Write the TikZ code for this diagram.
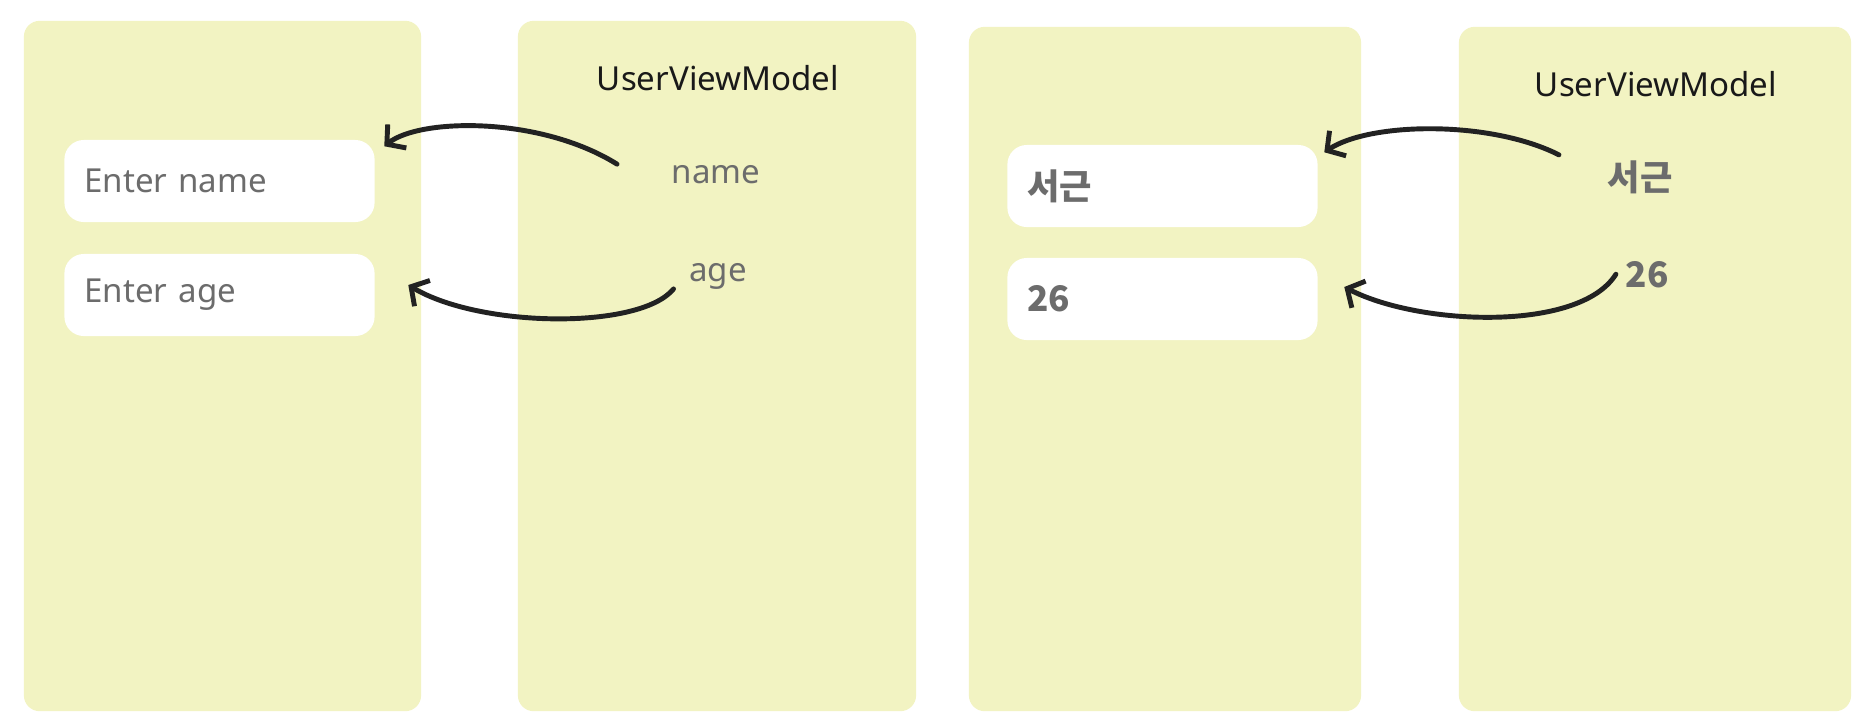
\documentclass[tikz,border=0pt]{standalone}
\usepackage{fontspec}
\setmainfont{Noto Sans}
\newfontfamily\kofont{Noto Sans CJK KR}
\usetikzlibrary{arrows.meta,positioning,calc}
\definecolor{lapsarga}{RGB}{242,243,194}
\definecolor{szurke}{RGB}{108,108,108}
\definecolor{ceruza}{RGB}{34,34,34}
\tikzset{
  panel/.style={fill=lapsarga,rounded corners=4.5pt,inner sep=0pt},
  field/.style={fill=white,rounded corners=5.5pt,minimum height=0.82cm,
    text width=2.7cm,inner xsep=0.2cm,align=left,text=szurke},
  lbl/.style={inner sep=0pt,anchor=base,text=szurke},
  vmtitle/.style={inner sep=0pt,anchor=base,text=black!90},
  arr/.style={draw=ceruza,line width=1.4pt,line cap=round,
    -{Straight Barb[length=1.3mm,width=3mm]}},
}

\begin{document}
\begin{tikzpicture}[x=0.01cm,y=-0.01cm,font=\fontsize{9.4pt}{11pt}\selectfont]
  \useasboundingbox (0,0) rectangle (1868,724);
  % before: empty fields
  \node[panel,minimum width=3.97cm,minimum height=6.9cm] (vw1) at (222.5,366) {};
  \node[panel,minimum width=3.98cm,minimum height=6.9cm] (vm1) at (717,366) {};
  \node[field] (inName) at (219.5,181) {Enter name};
  \node[field] (inAge) at (219.5,295) {Enter age};
  \node[vmtitle] (vmt1) at (718,90) {UserViewModel};
  \node[lbl] (name) at (716,183) {name};
  \node[lbl] (age) at (718,281) {age};
  \draw[arr] ($(name.west)+(-54,-10)$) .. controls (540,116) and (420,118) .. ($(inName.north east)+(9,7)$);
  \draw[arr] ($(age.west)+(-15,13)$) .. controls (640,330) and (480,328) .. ($(inAge.east)+(33,-10)$);
  % after: fields filled
  \node[panel,minimum width=3.92cm,minimum height=6.84cm] (vw2) at (1165,369) {};
  \node[panel,minimum width=3.92cm,minimum height=6.84cm] (vm2) at (1655,369) {};
  \node[field,font=\kofont\bfseries] (outName) at (1162.5,186) {서근};
  \node[field,font=\kofont\bfseries] (outAge) at (1162.5,299) {26};
  \node[vmtitle] (vmt2) at (1656,96) {UserViewModel};
  \node[lbl,font=\kofont\bfseries] (nameVal) at (1640,190) {서근};
  \node[lbl,font=\kofont\bfseries] (ageVal) at (1647,287) {26};
  \draw[arr] ($(nameVal.west)+(-48,-22)$) .. controls (1490,120) and (1370,122) .. ($(outName.north east)+(6,8)$);
  \draw[arr] ($(ageVal.west)+(-9,0)$) .. controls (1580,332) and (1420,326) .. ($(outAge.east)+(26,-12)$);
\end{tikzpicture}
\end{document}
